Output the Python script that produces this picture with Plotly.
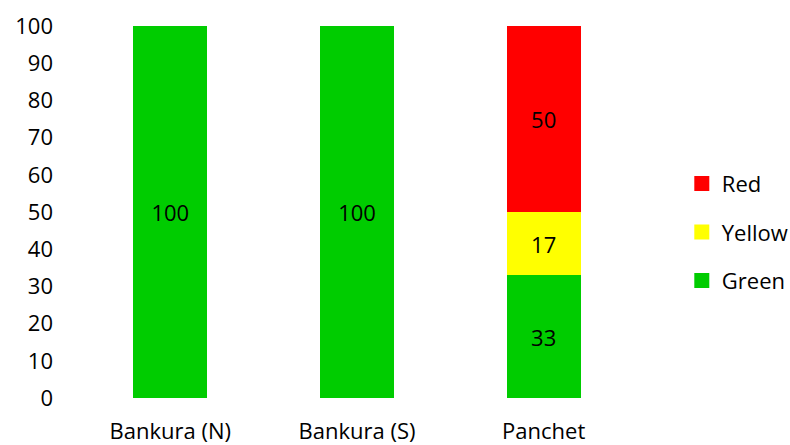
import plotly.graph_objects as go

categories = ["Bankura (N)", "Bankura (S)", "Panchet"]
green = [100, 100, 33]
yellow = [0, 0, 17]
red = [0, 0, 50]
series = [("Green", green, "#00CC00"), ("Yellow", yellow, "#FFFF00"), ("Red", red, "#FF0000")]
y_ticks = list(range(0, 101, 10))

FONT = "Open Sans"
FS = 22
fig = go.Figure()
for name, vals, col in series:
    fig.add_trace(go.Bar(
        x=categories, y=vals, name=name, marker=dict(color=col, line=dict(width=0)),
        text=[str(v) if v else "" for v in vals], textposition="inside",
        insidetextanchor="middle", textfont=dict(color="black", size=FS, family=FONT),
        showlegend=False, cliponaxis=False,
    ))
for i, (name, vals, col) in enumerate(reversed(series)):
    fig.add_trace(go.Scatter(
        x=[None], y=[None], mode="markers", name=name,
        marker=dict(symbol="square", size=15, color=col),
        legendgroup=name, legendrank=i + 1,
    ))

fig.update_layout(
    barmode="stack", bargap=0.604,
    width=790, height=445,
    margin=dict(l=76.5, r=152.5, t=26, b=46.5, autoexpand=False),
    paper_bgcolor="white", plot_bgcolor="white",
    font=dict(family=FONT, size=FS, color="black"),
    showlegend=True,
    legend=dict(x=1.08, y=0.446, xanchor="left", yanchor="middle",
                tracegroupgap=17, font=dict(size=FS, family=FONT),
                itemwidth=30, bgcolor="rgba(0,0,0,0)"),
    uniformtext=dict(mode="show", minsize=FS),
)
fig.update_xaxes(showline=False, showgrid=False, zeroline=False, ticks="",
                 ticklabelstandoff=18, tickfont=dict(size=FS))
fig.update_yaxes(range=[0, 100], tickvals=y_ticks, showline=False, showgrid=False,
                 zeroline=False, ticks="", ticklabelstandoff=23, tickfont=dict(size=FS))
fig.write_html("out.html", config={"displayModeBar": False},
               post_script="document.body.style.margin='0px';document.body.style.overflow='hidden';")
